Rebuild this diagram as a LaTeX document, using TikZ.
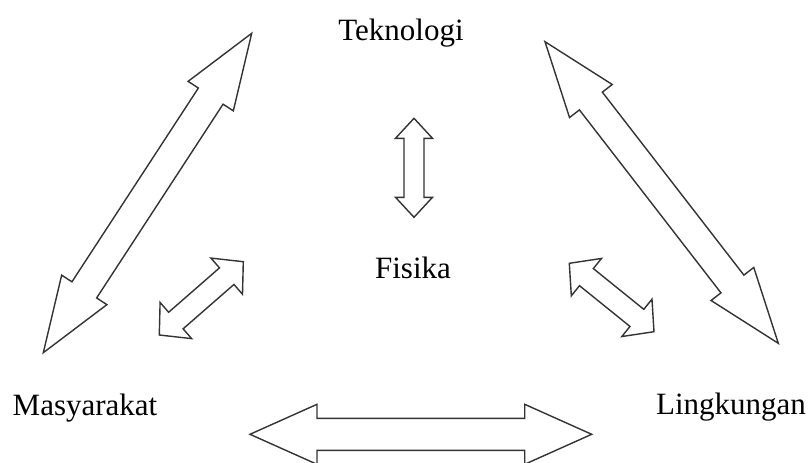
\documentclass[tikz,border=0pt]{standalone}
\usepackage{fontspec}
\setmainfont{Liberation Serif}
\usetikzlibrary{calc}
\def\blockarrow(#1)(#2)(#3:#4:#5){%
	\coordinate (ha) at ($(#1)!#5!(#2)$);
	\coordinate (hb) at ($(#2)!#5!(#1)$);
	\draw[blockline] (#1) -- ($(ha)!#4!-90:(#2)$) -- ($(ha)!#3!-90:(#2)$) -- ($(hb)!#3!90:(#1)$) -- ($(hb)!#4!90:(#1)$) -- (#2) -- ($(hb)!#4!-90:(#1)$) -- ($(hb)!#3!-90:(#1)$) -- ($(ha)!#3!90:(#2)$) -- ($(ha)!#4!90:(#2)$) -- cycle;}

\begin{document}
\begin{tikzpicture}[x=1pt, y=-1pt,
		blockline/.style={line width=1.4pt, color=black!80, line join=miter},
		lbl/.style={anchor=base, inner sep=0pt, font=\fontsize{31}{36}\selectfont}]
		%%%%% START %%%%%
		
		\useasboundingbox (0, 0) rectangle (809, 463);
		\clip (0, 0) rectangle (809, 463);
		
		\node[lbl] (tek) at (401, 40) {Teknologi};
		\node[lbl] (fis) at (413, 278) {Fisika};
		\node[lbl] (mas) at (85, 415) {Masyarakat};
		\node[lbl] (lin) at (731, 414) {Lingkungan};
		
		% ends of the big arrows
		\coordinate (masTop) at (43.3, 352.7);
		\coordinate (tekLeft) at (251.7, 33.3);
		\coordinate (tekRight) at (545, 41.7);
		\coordinate (linTop) at (778.3, 343.3);
		\coordinate (masRight) at (250, 434.3);
		\coordinate (linLeft) at (591.7, 434.3);
		
		% ends of the small arrows round Fisika
		\coordinate (fisUp) at (414, 118.3);
		\coordinate (fisUpEnd) at (414, 217.3);
		\coordinate (fisLeft) at (159.3, 335);
		\coordinate (fisLeftEnd) at (243.3, 261.7);
		\coordinate (fisRight) at (569.3, 263.3);
		\coordinate (fisRightEnd) at (654, 331.7);
		
		\blockarrow(masTop)(tekLeft)(14.75pt:27pt:75pt)
		\blockarrow(tekRight)(linTop)(14.5pt:27pt:75pt)
		\blockarrow(masRight)(linLeft)(16pt:30pt:67pt)
		
		\blockarrow(fisUp)(fisUpEnd)(10pt:18.5pt:20pt)
		\blockarrow(fisLeft)(fisLeftEnd)(11pt:24pt:22pt)
		\blockarrow(fisRight)(fisRightEnd)(11pt:24pt:22pt)
		
		%%%%% END %%%%%
\end{tikzpicture}
\end{document}
